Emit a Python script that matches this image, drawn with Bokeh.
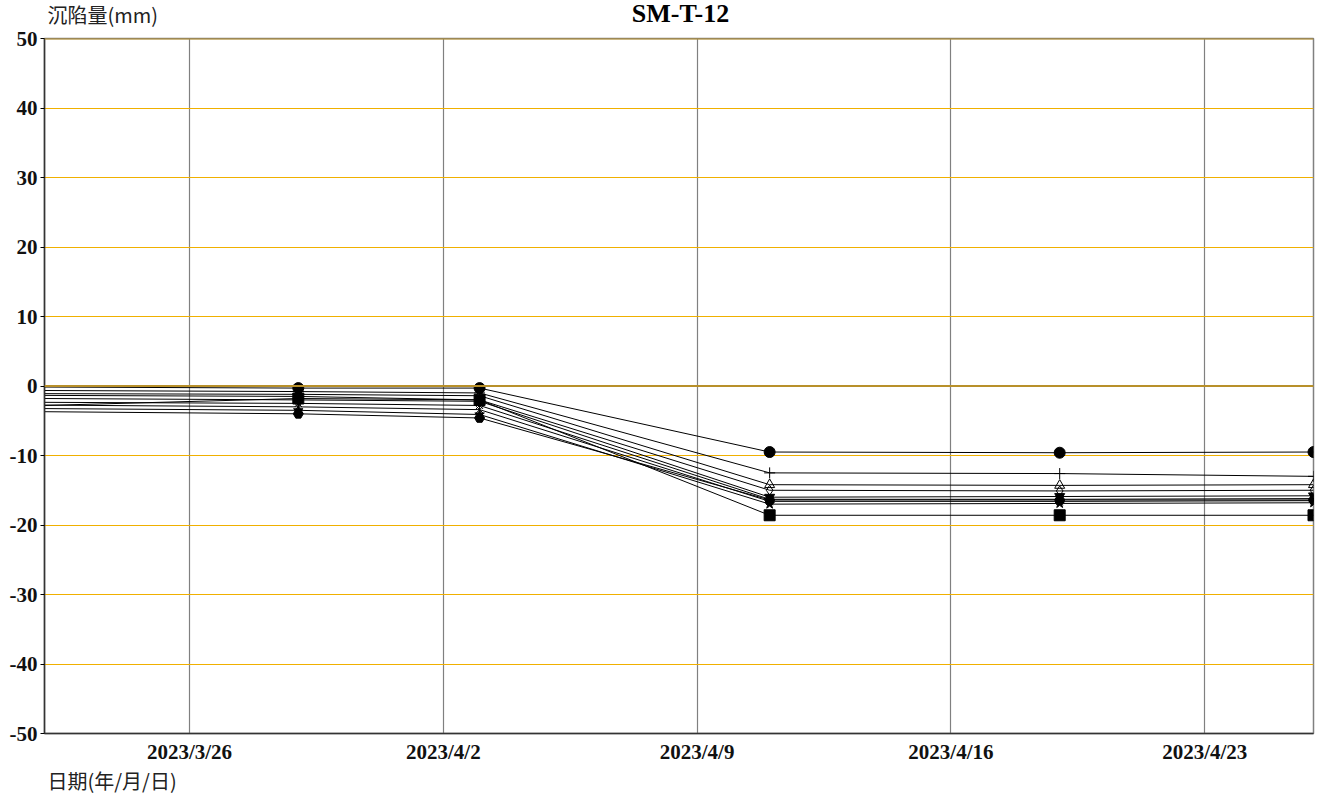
from datetime import datetime
from bokeh.plotting import figure
from bokeh.layouts import column
from bokeh.models import (Range1d, FixedTicker, CustomJSTickFormatter, Span,
                          ColumnDataSource)
from bokeh.core.properties import value
from bokeh.embed import file_html
from bokeh.resources import INLINE

# ---- data ----
dates = ["2023-03-15", "2023-03-29", "2023-04-03", "2023-04-11", "2023-04-19", "2023-04-26"]
s1 = [0.0, -0.3, -0.3, -9.5, -9.6, -9.5]
s2 = [-0.5, -0.8, -1.0, -12.5, -12.6, -13.0]
s3 = [-1.0, -1.2, -1.4, -14.2, -14.3, -14.2]
s4 = [-1.2, -1.5, -2.0, -15.0, -15.1, -15.0]
s5 = [-1.6, -2.0, -2.2, -16.0, -15.9, -15.8]
s6 = [-2.2, -2.5, -2.8, -16.3, -16.3, -16.2]
s7 = [-2.5, -3.0, -3.4, -16.6, -16.6, -16.5]
s8 = [-3.0, -3.5, -4.1, -17.0, -16.9, -16.8]
s9 = [-3.4, -4.0, -4.6, -16.4, -16.4, -16.4]
s10 = [-3.8, -1.8, -2.0, -18.6, -18.6, -18.6]
series = [s1, s2, s3, s4, s5, s6, s7, s8, s9, s10]
markers = ["circle", "cross", "triangle", "diamond", "inverted_triangle",
           "asterisk", "x", "star", "hex", "square"]
hollow = [False, False, True, True, False, False, False, False, False, False]
y_ticks = [50, 40, 30, 20, 10, 0, -10, -20, -30, -40, -50]
x_tick_dates = ["2023-03-26", "2023-04-02", "2023-04-09", "2023-04-16", "2023-04-23"]
title_text = "SM-T-12"
y_label = "沉陷量(mm)"
x_label = "日期(年/月/日)"

def ms(s):
    return datetime.strptime(s, "%Y-%m-%d").timestamp() * 1000.0

xs = [datetime.strptime(d, "%Y-%m-%d") for d in dates]

W = 1316
FRAME_L, FRAME_R = 44, 1313   # page x-extent of the plotting frame (strips align to it)

def text_strip(height):
    f = figure(width=W, height=height, output_backend="svg", toolbar_location=None,
               x_range=Range1d(FRAME_L, FRAME_R), y_range=Range1d(0, height),
               x_axis_location=None, y_axis_location=None, min_border=0)
    f.grid.visible = False
    f.outline_line_color = None
    return f

# ---- header (title + y-axis caption) ----
h = text_strip(28)
h.text(x=[680], y=[15], text=[title_text], text_font=value("Liberation Serif"),
       text_font_style="bold", text_font_size="26px", text_color="black",
       text_align="center", text_baseline="middle")
h.text(x=[47], y=[14], text=[y_label], text_font=value("Noto Sans CJK TC"),
       text_font_size="20px", text_color="#222222",
       text_align="left", text_baseline="middle")

# ---- main chart ----
p = figure(width=W, height=738, output_backend="svg", toolbar_location=None,
           x_axis_type="datetime",
           x_range=Range1d(datetime(2023, 3, 22), datetime(2023, 4, 26)),
           y_range=Range1d(-50, 50),
           min_border_left=44, min_border_top=10, min_border_right=3, min_border_bottom=33)

p.outline_line_color = "#808080"
p.outline_line_width = 1.5

p.yaxis.ticker = FixedTicker(ticks=y_ticks)
p.yaxis.formatter = CustomJSTickFormatter(code="return String(tick);")
p.xaxis.ticker = FixedTicker(ticks=[ms(d) for d in x_tick_dates])
p.xaxis.formatter = CustomJSTickFormatter(code="""
const d = new Date(tick);
return d.getUTCFullYear() + '/' + (d.getUTCMonth()+1) + '/' + d.getUTCDate();
""")
for ax in (p.xaxis, p.yaxis):
    ax.major_label_text_font = "Liberation Serif"
    ax.major_label_text_font_style = "bold"
    ax.major_label_text_font_size = "21px"
    ax.major_label_text_color = "#111111"
    ax.axis_line_color = "#333333"
    ax.axis_line_width = 1.5
    ax.minor_tick_line_color = None
    ax.major_tick_in = 0
p.yaxis.major_tick_out = 4
p.yaxis.major_label_standoff = 3
p.xaxis.major_tick_out = 0
p.xaxis.major_label_standoff = 6

p.xgrid.grid_line_color = "#808080"
p.xgrid.grid_line_width = 1.2
p.ygrid.grid_line_color = "#f0b000"
p.ygrid.grid_line_width = 1
p.ygrid.ticker = FixedTicker(ticks=y_ticks)

p.add_layout(Span(location=0, dimension="width", line_color="#b8902a", line_width=2))
p.add_layout(Span(location=50, dimension="width", line_color="#b8902a", line_width=2))

for vals, m, hol in zip(series, markers, hollow):
    src = ColumnDataSource(dict(x=xs, y=vals))
    p.line("x", "y", source=src, line_color="black", line_width=1)
    size = 11 if m in ("circle", "square", "cross") else 10
    p.scatter("x", "y", source=src, marker=m, size=size, line_color="black",
              fill_color=None if hol else "black", line_width=1)

# ---- footer (x-axis caption) ----
ft = text_strip(28)
ft.text(x=[47], y=[14], text=[x_label], text_font=value("Noto Sans CJK TC"),
        text_font_size="20px", text_color="#222222",
        text_align="left", text_baseline="middle")

layout = column(h, p, ft, spacing=0)
open("out.html", "w").write(file_html(layout, INLINE))
